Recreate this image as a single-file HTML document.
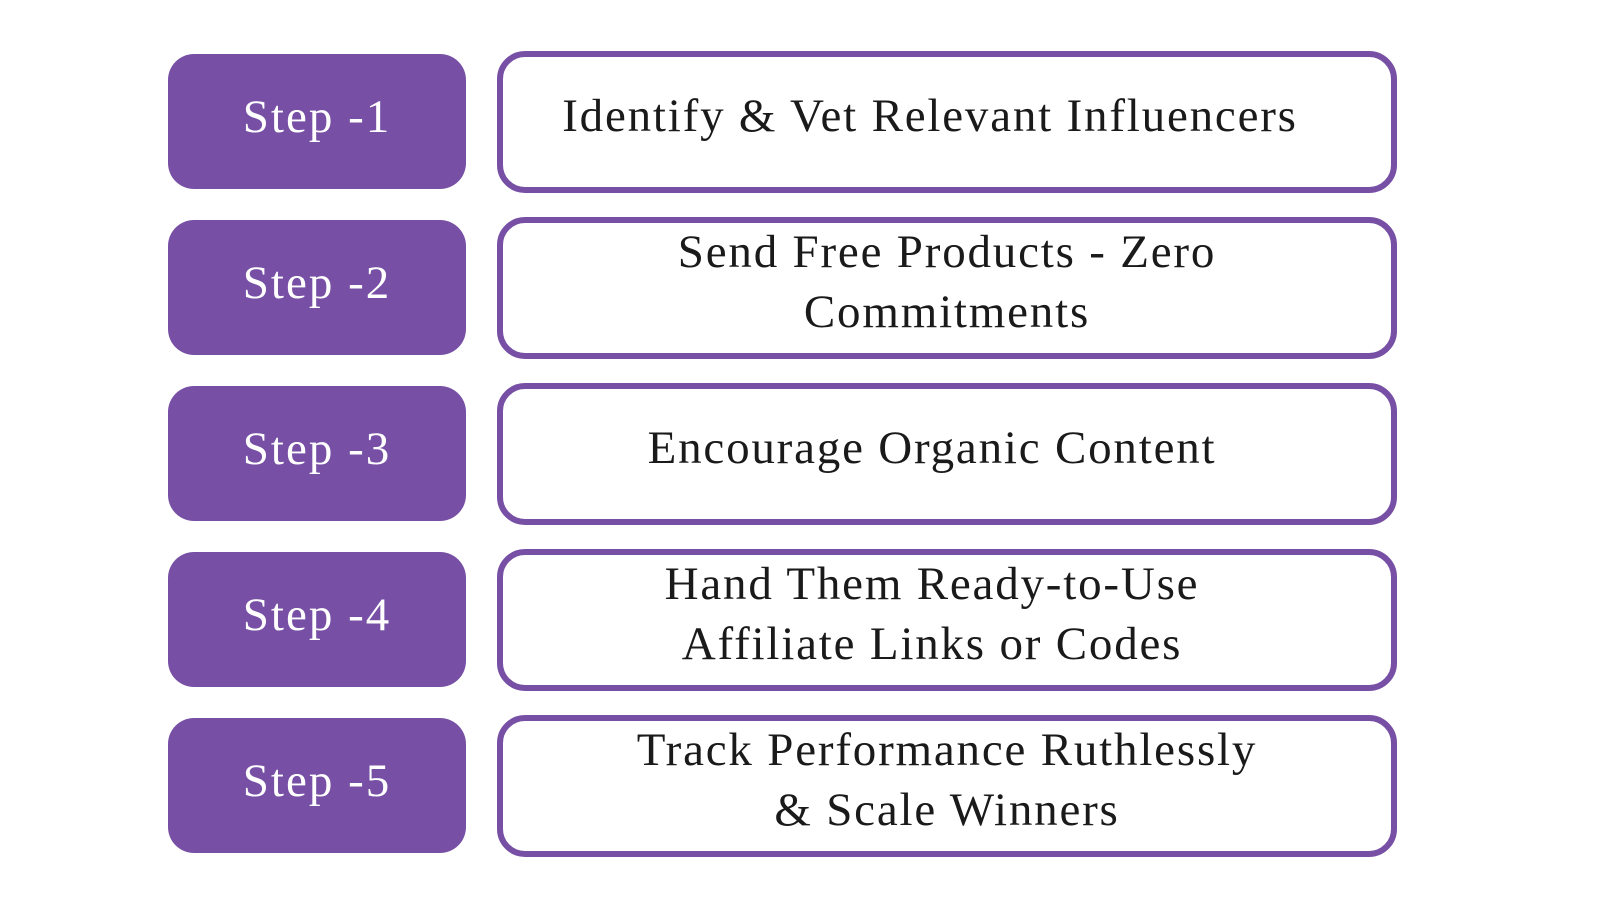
<!DOCTYPE html>
<html><head><style>
body{margin:0;width:1600px;height:900px;background:#fff;position:relative;font-family:"Liberation Serif","DejaVu Serif",serif;overflow:hidden}
.s{position:absolute;left:168px;width:298px;height:135px;background:#7750a6;border-radius:26px;color:#fff;font-size:47px;letter-spacing:2px;display:flex;align-items:center;justify-content:center;box-sizing:border-box;padding-bottom:10px}
.b{position:absolute;left:497px;width:888px;height:130px;border:6px solid #7750a6;border-radius:28px;background:#fff;color:#1a1a1a;font-size:47px;letter-spacing:1.8px;line-height:60px;display:flex;align-items:center;justify-content:center;text-align:center;box-sizing:content-box}
.b span{position:relative;top:-6px}
</style></head><body>
<div class="s" style="top:54px">Step -1</div>
<div class="s" style="top:220px">Step -2</div>
<div class="s" style="top:386px">Step -3</div>
<div class="s" style="top:552px">Step -4</div>
<div class="s" style="top:718px">Step -5</div>
<div class="b" style="top:51px"><span style="margin-right:34px">Identify &amp; Vet Relevant Influencers</span></div>
<div class="b" style="top:217px"><span>Send Free Products - Zero<br>Commitments</span></div>
<div class="b" style="top:383px"><span style="margin-right:30px">Encourage Organic Content</span></div>
<div class="b" style="top:549px"><span style="margin-right:30px">Hand Them Ready-to-Use<br>Affiliate Links or Codes</span></div>
<div class="b" style="top:715px"><span>Track Performance Ruthlessly<br>&amp; Scale Winners</span></div>
</body></html>
